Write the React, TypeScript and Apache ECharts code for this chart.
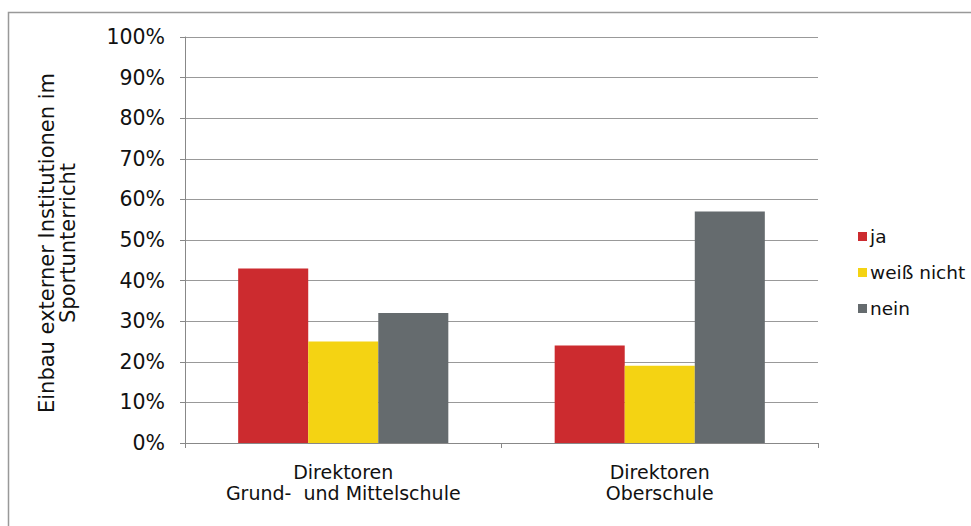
import React, { useEffect, useRef } from "react";
import * as echarts from "echarts";

const categories = ["Direktoren\nGrund-  und Mittelschule", "Direktoren\nOberschule"];
const seriesNames = ["ja", "weiß nicht", "nein"];
const jaValues = [43, 24];
const weissNichtValues = [25, 19];
const neinValues = [32, 57];
const yTicks = [0, 10, 20, 30, 40, 50, 60, 70, 80, 90, 100];
const yAxisTitle = "Einbau externer Institutionen im\nSportunterricht";

const colors = ["#CC2B2F", "#F4D313", "#656B6E"];
const FONT = "'DejaVu Sans', Verdana, sans-serif";

export default function App() {
  const ref = useRef<HTMLDivElement>(null);
  useEffect(() => {
    if (!ref.current) return;
    const chart = echarts.init(ref.current, null, { renderer: "svg" });
    const data = [jaValues, weissNichtValues, neinValues];
    chart.setOption({
      animation: false,
      backgroundColor: "#ffffff",
      textStyle: { fontFamily: FONT },
      grid: { left: 185, right: 153, top: 37, bottom: 83, containLabel: false },
      legend: {
        orient: "vertical",
        left: 853,
        top: 222,
        itemWidth: 9,
        itemHeight: 9,
        itemGap: 17,
        icon: "rect",
        textStyle: { fontFamily: FONT, fontSize: 18.5, color: "#111", lineHeight: 18, padding: [0, 0, 0, -2] },
        data: seriesNames,
      },
      xAxis: {
        type: "category",
        data: categories,
        axisLine: { lineStyle: { color: "#888", width: 1 } },
        axisTick: { show: true, length: 5, alignWithLabel: false, lineStyle: { color: "#888" } },
        axisLabel: { color: "#111", fontFamily: FONT, fontSize: 19, margin: 18, lineHeight: 21 },
      },
      yAxis: {
        type: "value",
        min: 0,
        max: 100,
        interval: 10,
        axisLine: { show: true, lineStyle: { color: "#888", width: 1 } },
        axisTick: { show: true, length: 5, lineStyle: { color: "#888" } },
        splitLine: { show: true, lineStyle: { color: "#999", width: 1 } },
        axisLabel: {
          color: "#111",
          fontFamily: FONT,
          fontSize: 20.5,
          margin: 20,
          formatter: (v: number) => (yTicks.includes(v) ? v + "%" : ""),
        },
      },
      series: seriesNames.map((name, i) => ({
        name,
        type: "bar",
        data: data[i],
        barGap: "0%",
        barCategoryGap: "33.6%",
        itemStyle: { color: colors[i] },
      })),
      graphic: [
        {
          type: "rect",
          shape: { x: 8.5, y: 12.5, width: 1200, height: 800 },
          style: { fill: "none", stroke: "#999", lineWidth: 1.5 },
          silent: true,
        },
        {
          type: "text",
          x: 57,
          y: 243,
          rotation: Math.PI / 2,
          style: {
            text: yAxisTitle,
            fontFamily: FONT,
            fontSize: 21,
            lineHeight: 21,
            fill: "#111",
            align: "center",
            verticalAlign: "middle",
          },
        },
      ],
    });
    return () => chart.dispose();
  }, []);
  return <div ref={ref} style={{ width: 971, height: 526, position: "absolute", left: 0, top: 0 }} />;
}
